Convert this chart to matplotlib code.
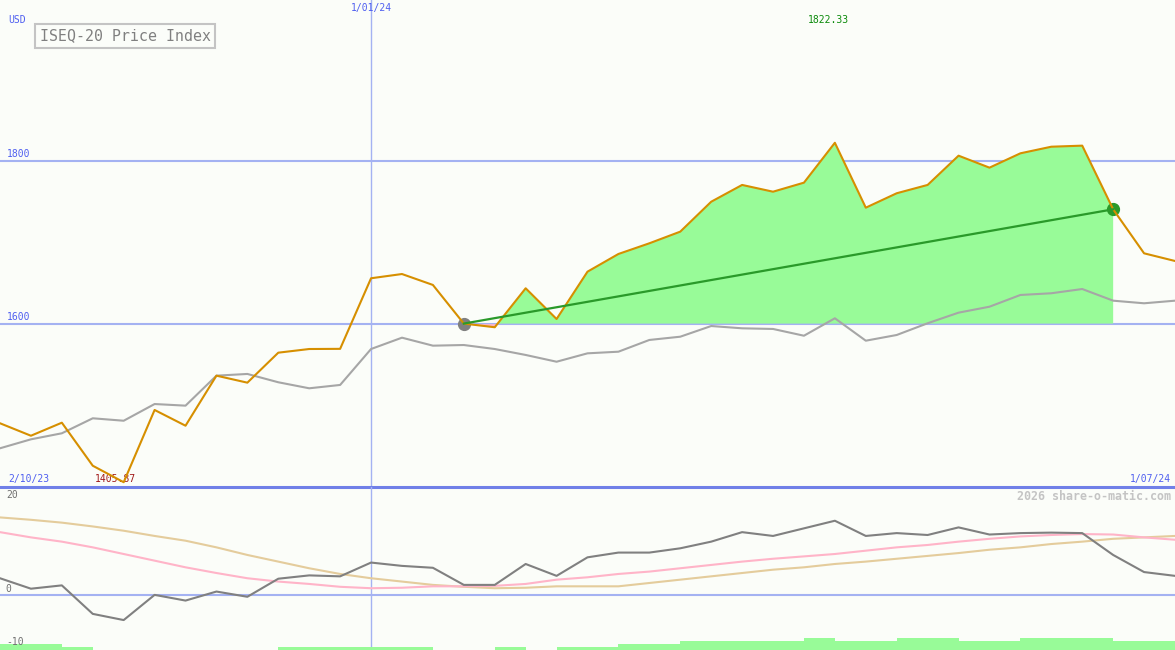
import numpy as np
import pandas as pd
import matplotlib
matplotlib.use('Agg')
import matplotlib.pyplot as plt
import matplotlib.transforms as mtrans

# weekly closes, ISEQ-20
dates = pd.date_range('2023-10-09', periods=39, freq='W-MON')
price = [1478.2, 1462.9, 1478.9, 1426.1, 1405.87, 1494.5, 1475.2, 1536.6, 1528.0, 1564.8,
         1569.3, 1569.5, 1656.1, 1661.3, 1647.9, 1600.5, 1596.0, 1643.8, 1606.1, 1664.2,
         1685.9, 1699.0, 1713.3, 1750.0, 1770.6, 1762.3, 1773.4, 1822.33, 1742.7, 1760.4,
         1770.6, 1806.5, 1791.8, 1809.4, 1817.5, 1818.8, 1740.7, 1686.7, 1677.3]
avg = [1447.5, 1458.5, 1465.9, 1484.3, 1481.3, 1501.8, 1499.8, 1536.6, 1538.7, 1528.5,
       1521.1, 1525.2, 1569.3, 1583.2, 1573.4, 1574.2, 1569.3, 1562.0, 1553.7, 1564.0,
       1566.0, 1580.4, 1584.4, 1597.5, 1594.7, 1593.9, 1585.6, 1607.0, 1579.5, 1586.5,
       1600.9, 1613.9, 1621.2, 1635.6, 1637.7, 1642.9, 1628.6, 1625.4, 1628.6]

# lower panel
osc = [3.5, 1.3, 2.0, -4.0, -5.3, 0.0, -1.2, 0.7, -0.4, 3.4,
       4.1, 3.9, 6.8, 6.1, 5.7, 2.1, 2.1, 6.5, 4.0, 7.9,
       8.9, 8.9, 9.8, 11.2, 13.2, 12.4, 14.0, 15.6, 12.4, 13.0,
       12.6, 14.2, 12.7, 13.0, 13.1, 13.0, 8.4, 4.8, 4.0]
sig1 = [13.2, 12.1, 11.2, 10.0, 8.6, 7.2, 5.8, 4.6, 3.5, 2.8,
        2.3, 1.7, 1.4, 1.5, 1.8, 1.8, 1.9, 2.3, 3.2, 3.7,
        4.4, 4.9, 5.6, 6.3, 7.0, 7.6, 8.1, 8.6, 9.3, 10.0,
        10.5, 11.2, 11.8, 12.3, 12.6, 12.8, 12.7, 12.1, 11.6]
sig2 = [16.3, 15.8, 15.2, 14.4, 13.5, 12.4, 11.4, 10.0, 8.4, 7.0,
        5.6, 4.4, 3.5, 2.8, 2.1, 1.7, 1.4, 1.5, 1.8, 1.8,
        1.8, 2.5, 3.2, 3.9, 4.6, 5.3, 5.8, 6.5, 7.0, 7.6,
        8.2, 8.8, 9.5, 10.0, 10.7, 11.2, 11.8, 12.1, 12.4]
bars = [1.3, 1.3, 0.6, 0, 0, 0, 0, 0, 0, 0.6,
        0.6, 0.6, 0.6, 0.6, 0, 0, 0.6, 0, 0.6, 0.6,
        1.3, 1.3, 1.9, 1.9, 1.9, 1.9, 2.5, 1.9, 1.9, 2.5,
        2.5, 1.9, 1.9, 2.5, 2.5, 2.5, 1.9, 1.9]
osc_labels = ['20', '0', '-10']

start, end = 15, 36
jan = pd.Timestamp('2024-01-01')

bg = '#fbfdf9'
blue_txt = '#4f5ff0'
grid_c = '#a4b2f2'
plt.rcParams['font.family'] = ['DejaVu Sans Mono']

fig = plt.figure(figsize=(11.75, 6.5), dpi=100, facecolor=bg)
ax1 = fig.add_axes([0, 163/650, 1, 487/650], facecolor=bg)
ax2 = fig.add_axes([0, 0, 1, 163/650], facecolor=bg)
for a in (ax1, ax2):
    a.set_axis_off()
    a.set_xlim(dates[0], dates[-1])

ax1.set_ylim(1400, 1997.5)
ax2.set_ylim(-11.6, 22.7)

# upper panel
for lv in (1600, 1800):
    ax1.axhline(lv, color=grid_c, lw=1.5, zorder=1)
ax1.axvline(jan, color=grid_c, lw=1, zorder=1)
ax1.axhline(1400, color='#7080e8', lw=2.2, zorder=7, clip_on=False)

xs = dates[start:end + 1]
ps = np.array(price[start:end + 1])
base = price[start]
ax1.fill_between(xs, ps, base, where=ps >= base, interpolate=True, color='#98fb98', lw=0, zorder=2)
ax1.fill_between(xs, ps, base, where=ps < base, interpolate=True, color='#ffb4c4', lw=0, zorder=2)

ax1.plot(dates, avg, color='#a6a6a6', lw=1.5, zorder=3)
ax1.plot(dates[start], price[start], 'o', color='#808080', ms=8.5, zorder=4)
ax1.plot(dates[end], price[end], 'o', color='#2a9a2a', ms=8.5, zorder=4)
ax1.plot(dates, price, color='#d68f00', lw=1.5, zorder=5)
ax1.plot([dates[start], dates[end]], [price[start], price[end]], color='#2a9a2a', lw=1.6, zorder=6)

tr1 = mtrans.blended_transform_factory(ax1.transAxes, ax1.transData)
for lv in (1600, 1800):
    ax1.text(0.006, lv + 2, str(lv), transform=tr1, color=blue_txt, fontsize=7, va='bottom')

trx = mtrans.blended_transform_factory(ax1.transData, ax1.transAxes)
imax = int(np.argmax(price))
imin = int(np.argmin(price))
ax1.text(dates[imax] - pd.Timedelta(days=1.5), 1 - 20/487, f'{price[imax]:.2f}', transform=trx,
         color='#0a8a0a', fontsize=7, ha='center', va='center')
ax1.text(dates[imin] - pd.Timedelta(days=1.8), 8/487, f'{price[imin]:.2f}', transform=trx,
         color='#a01818', fontsize=7, ha='center', va='center')
ax1.text(jan, 1 - 8/487, '1/01/24', transform=trx, color=blue_txt, fontsize=7,
         ha='center', va='center')
ax1.text(0.007, 8/487, '2/10/23', transform=ax1.transAxes, color=blue_txt, fontsize=7, va='center')
ax1.text(0.997, 8/487, '1/07/24', transform=ax1.transAxes, color=blue_txt, fontsize=7,
         va='center', ha='right')
ax1.text(0.007, 1 - 20/487, 'USD', transform=ax1.transAxes, color=blue_txt, fontsize=7, va='center')
ax1.text(125/1175, 1 - 36/487, 'ISEQ-20 Price Index', transform=ax1.transAxes, color='#808080',
         fontsize=10.7, ha='center', va='center',
         bbox=dict(boxstyle='square,pad=0.33', fc=bg, ec='#c4c4c4', lw=1.5))

# lower panel
ax2.axhline(0, color=grid_c, lw=1.5, zorder=1)
ax2.axvline(jan, color=grid_c, lw=1, zorder=1)
ax2.bar(dates[:-1], bars, width=7, align='edge', bottom=-11.6, color='#98fb98', lw=0, zorder=2)
ax2.plot(dates, sig2, color='#e4cc9c', lw=1.5, zorder=3)
ax2.plot(dates, sig1, color='#ffb4c8', lw=1.5, zorder=3)
ax2.plot(dates, osc, color='#808080', lw=1.5, zorder=4)

# label rows (pixel rows from the top of the lower panel)
for lab, row in zip(osc_labels, (8, 102, 155)):
    ax2.text(0.005, 1 - row/163, lab, transform=ax2.transAxes, color='#707070', fontsize=7,
             va='center')
ax2.text(0.997, 1 - 9/163, '2026 share-o-matic.com', transform=ax2.transAxes, color='#c4c4c4',
         fontsize=8.4, fontweight='bold', ha='right', va='center')

fig.savefig('out.png', dpi=100, facecolor=bg)
